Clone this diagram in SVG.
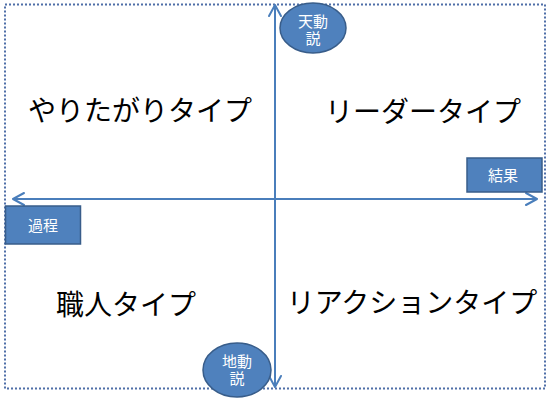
<svg xmlns="http://www.w3.org/2000/svg" width="550" height="402" viewBox="0 0 550 402">
<style>
.shape{fill:#4F81BD;stroke:#385D8A;stroke-width:1.5}
.lbl{fill:#fff;font-family:"Noto Sans CJK JP","Noto Sans",sans-serif;font-size:15px;text-anchor:middle}
.big{fill:#000;font-family:"Noto Sans CJK JP","Noto Sans",sans-serif;font-size:28px;text-anchor:middle}
.axis{stroke:#4A7EBB;stroke-width:2;fill:none}
.head{stroke:#4A7EBB;stroke-width:2;fill:none;stroke-linecap:round;stroke-linejoin:round}
</style>
<rect width="550" height="402" fill="#fff"/>
<rect id="frame" x="5" y="4.5" width="540" height="384" fill="none" stroke="#4F6FA8" stroke-width="2" stroke-dasharray="2 2"/>
<g id="connectors">
<line class="axis" x1="14" y1="199" x2="536" y2="199"/>
<polyline class="head" points="24,193 13,199 24,205"/>
<polyline class="head" points="526,193 537,199 526,205"/>
<line class="axis" x1="275" y1="6" x2="275" y2="386"/>
<polyline class="head" points="269,16 275,5 281,16"/>
<polyline class="head" points="269,376 275,387 281,376"/>
</g>
<g id="q1"><text class="big" x="140" y="121">やりたがりタイプ</text></g>
<g id="q2"><text class="big" x="423" y="122">リーダータイプ</text></g>
<g id="q3"><text class="big" x="126" y="315">職人タイプ</text></g>
<g id="q4"><text class="big" x="412" y="313">リアクションタイプ</text></g>
<g id="tendousetsu">
<ellipse class="shape" cx="313" cy="28" rx="33" ry="25"/>
<text class="lbl" x="313" y="27">天動</text>
<text class="lbl" x="313" y="44">説</text>
</g>
<g id="chidousetsu">
<ellipse class="shape" cx="237" cy="370" rx="34" ry="27"/>
<text class="lbl" x="237" y="367">地動</text>
<text class="lbl" x="237" y="384">説</text>
</g>
<g id="katei">
<rect class="shape" x="5.5" y="206" width="75" height="38"/>
<text class="lbl" x="43" y="231">過程</text>
</g>
<g id="kekka">
<rect class="shape" x="467" y="158" width="75" height="34"/>
<text class="lbl" x="503" y="181">結果</text>
</g>
</svg>
